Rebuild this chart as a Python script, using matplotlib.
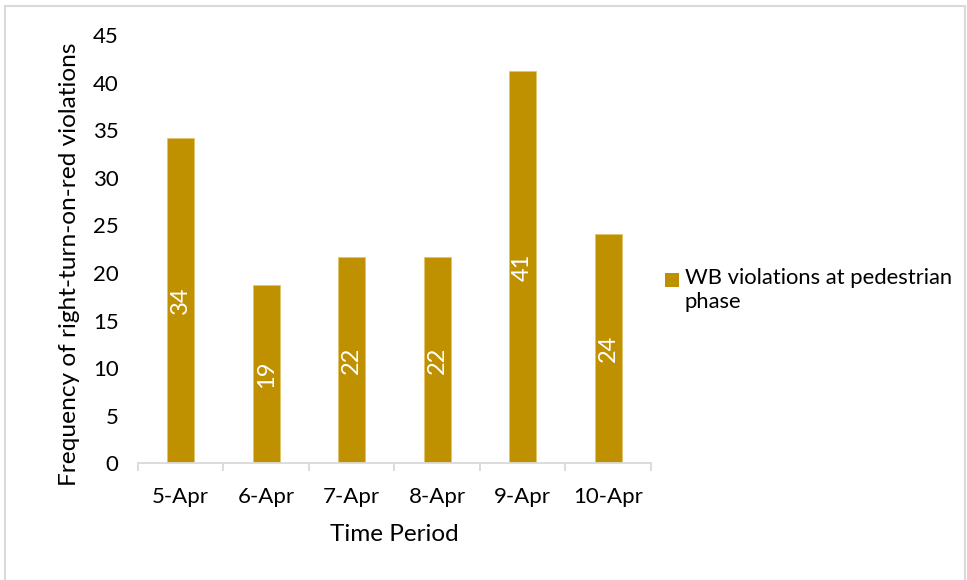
import numpy as np
import matplotlib
matplotlib.use("Agg")
import matplotlib.pyplot as plt
from matplotlib.lines import Line2D
from matplotlib.patches import Rectangle

plt.rcParams["font.family"] = ["Lato", "DejaVu Sans"]

# Data
dates = ["5-Apr", "6-Apr", "7-Apr", "8-Apr", "9-Apr", "10-Apr"]
violations = [34.2, 18.7, 21.7, 21.7, 41.2, 24.1]
series_name = "WB violations at pedestrian\nphase"

bar_color = "#BF9000"
axis_gray = "#D9D9D9"

fig = plt.figure(figsize=(9.67, 5.8), dpi=100)
ax = fig.add_axes([0.1427, 0.2012, 0.5305, 0.7385])

x = np.arange(len(dates))
bars = ax.bar(x, violations, width=0.32, color=bar_color, edgecolor="#E2C46A", linewidth=0.6)

# Value labels, rotated, centred in each bar
for b, v in zip(bars, violations):
    ax.text(b.get_x() + b.get_width() / 2, v / 2, f"{v:.0f}", rotation=90,
            ha="center", va="center", color="white", fontsize=17)

ax.set_xlim(-0.5, len(dates) - 0.5)
ax.set_ylim(0, 45)
ax.set_yticks(range(0, 46, 5))
ax.set_xticks(x)
ax.set_xticklabels(dates)
ax.set_xticks(np.arange(-0.5, len(dates), 1), minor=True)

for s in ["top", "right", "left"]:
    ax.spines[s].set_visible(False)
ax.spines["bottom"].set_color(axis_gray)
ax.spines["bottom"].set_linewidth(1.3)

ax.tick_params(axis="y", length=0, labelsize=16, pad=14, colors="#000000")
ax.tick_params(axis="x", which="major", length=0, labelsize=16, pad=17)
ax.tick_params(axis="x", which="minor", length=6, width=1.3, color=axis_gray)

ax.set_xlabel("Time Period", fontsize=17.5, labelpad=12)
ax.set_ylabel("Frequency of right-turn-on-red violations", fontsize=17.6)
ax.yaxis.set_label_coords(-0.1326, 0.465)
ax.yaxis.label.set_va("center")

# Legend drawn by hand so the swatch lines up with the first text line
W, H = 967, 580
fig.add_artist(Rectangle((665 / W, 1 - 287 / H), 14 / W, 14 / H,
                         facecolor=bar_color, edgecolor="none", transform=fig.transFigure))
fig.text(685 / W, 1 - 268 / H, series_name, fontsize=15.8, va="top", ha="left",
         linespacing=1.25)

# Light chart-area border
for xs, ys in [([5, 965], [6, 6]), ([5, 5], [6, 580]), ([965, 965], [6, 580])]:
    fig.add_artist(Line2D([v / W for v in xs], [1 - v / H for v in ys],
                          color=axis_gray, linewidth=1.5, transform=fig.transFigure))

fig.savefig("out.png", dpi=100)
